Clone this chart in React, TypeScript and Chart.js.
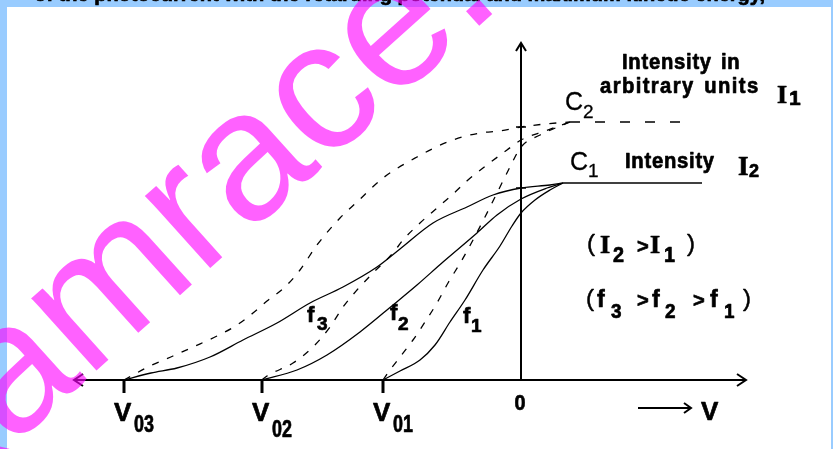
import React, { useEffect, useRef } from "react";
import { Chart, registerables } from "chart.js";

Chart.register(...registerables);

// ---- data (x: collector potential V, arbitrary units; y: photocurrent, arbitrary units) ----
const stoppingPotentials = [-3.97, -2.59, -1.38]; // V03, V02, V01
const stoppingLabels = ["03", "02", "01"];

// Intensity I2 (solid curves, saturate at C1)
const solidF3X = [-3.97, -3.7, -3.44, -3.11, -2.78, -2.44, -2.11, -1.78, -1.44, -1.21, -0.88, -0.54, -0.28, 0, 0.29, 0.42];
const solidF3Y = [0, 0.14, 0.24, 0.46, 0.8, 1.14, 1.54, 1.86, 2.26, 2.62, 3.14, 3.46, 3.7, 3.84, 3.9, 3.94];
const solidF2X = [-2.59, -2.24, -1.94, -1.61, -1.28, -1.04, -0.78, -0.44, -0.24, 0, 0.26, 0.42];
const solidF2Y = [0, 0.2, 0.5, 0.96, 1.5, 1.9, 2.36, 2.94, 3.3, 3.62, 3.84, 3.94];
const solidF1X = [-1.38, -1.21, -1.01, -0.86, -0.71, -0.56, -0.38, -0.21, -0.09, 0, 0.14, 0.29, 0.42];
const solidF1Y = [0, 0.18, 0.4, 0.7, 1.16, 1.6, 2.2, 2.68, 3.08, 3.34, 3.6, 3.8, 3.94];

// Intensity I1 (dashed curves, saturate at C2)
const dashedF3X = [-3.97, -3.71, -3.48, -3.28, -3.04, -2.84, -2.68, -2.54, -2.36, -2.21, -2.04, -1.81, -1.64, -1.38, -1.04, -0.71, -0.41, -0.21, 0, 0.24, 0.49];
const dashedF3Y = [0, 0.28, 0.48, 0.66, 0.88, 1.1, 1.34, 1.58, 1.86, 2.2, 2.7, 3.24, 3.56, 4.04, 4.46, 4.78, 4.94, 4.98, 5.06, 5.12, 5.16];
const dashedF2X = [-2.59, -2.54, -2.28, -2.08, -1.91, -1.78, -1.64, -1.48, -1.28, -1.18, -1.01, -0.84, -0.69, -0.53, -0.34, -0.14, 0, 0.24, 0.49];
const dashedF2Y = [0, 0.08, 0.34, 0.66, 1.06, 1.46, 1.8, 2.14, 2.54, 2.8, 3.14, 3.44, 3.7, 4.0, 4.3, 4.6, 4.8, 4.98, 5.16];
const dashedF1X = [-1.38, -1.31, -1.21, -1.08, -0.96, -0.84, -0.73, -0.59, -0.48, -0.36, -0.24, -0.11, 0, 0.19, 0.49];
const dashedF1Y = [0, 0.2, 0.46, 0.8, 1.16, 1.54, 1.94, 2.4, 2.8, 3.26, 3.74, 4.26, 4.66, 4.9, 5.16];

// Saturation levels
const saturationC1X = [0.42, 1.81];
const saturationC1Y = [3.94, 3.94];
const saturationC2X = [0.49, 1.69];
const saturationC2Y = [5.16, 5.16];

// Axis extents
const xAxisRange = [-4.47, 2.25];
const yAxisTop = 6.74;
const xView = [-5.21, 3.12];
const yView = [-1.38, 7.6];

const SANS = "'Liberation Sans', Arial, sans-serif";
const SERIF = "'Liberation Serif', 'Times New Roman', serif";

const pts = (xs: number[], ys: number[]) => xs.map((x, i) => ({ x, y: ys[i] }));

function valueAtZero(xs: number[], ys: number[]) {
  const i = xs.indexOf(0);
  return i >= 0 ? ys[i] : 0;
}

function txt(ctx: CanvasRenderingContext2D, s: string, x: number, y: number, font: string, opts: any = {}) {
  ctx.save();
  ctx.font = font;
  (ctx as any).letterSpacing = opts.ls || "0px";
  (ctx as any).wordSpacing = opts.ws || "0px";
  ctx.textAlign = opts.align || "left";
  ctx.textBaseline = "alphabetic";
  ctx.fillStyle = opts.color || "#000";
  ctx.translate(x, y);
  if (opts.sx) ctx.scale(opts.sx, 1);
  ctx.fillText(s, 0, 0);
  const sw = opts.stroke === undefined ? 0.7 : opts.stroke;
  if (sw > 0) {
    ctx.strokeStyle = opts.color || "#000";
    ctx.lineWidth = sw;
    ctx.lineJoin = "round";
    ctx.strokeText(s, 0, 0);
  }
  ctx.restore();
}

function seg(ctx: CanvasRenderingContext2D, p: number[][]) {
  ctx.beginPath();
  ctx.moveTo(p[0][0], p[0][1]);
  for (let i = 1; i < p.length; i++) ctx.lineTo(p[i][0], p[i][1]);
  ctx.stroke();
}

const decorPlugin = {
  id: "decor",
  beforeDraw(chart: any) {
    const { ctx, width, height } = chart;
    ctx.save();
    ctx.fillStyle = "#ffffff";
    ctx.fillRect(0, 0, width, height);
    ctx.restore();
  },
  afterDraw(chart: any) {
    const { ctx, width, height } = chart;
    const xs = chart.scales.x;
    const ys = chart.scales.y;
    const X = (v: number) => xs.getPixelForValue(v);
    const Y = (v: number) => ys.getPixelForValue(v);
    const ox = X(0);
    const oy = Y(0);

    ctx.save();
    ctx.strokeStyle = "#000";
    ctx.lineWidth = 2;
    ctx.lineCap = "butt";
    ctx.lineJoin = "miter";
    // axes
    seg(ctx, [[X(xAxisRange[0]), oy], [X(xAxisRange[1]), oy]]);
    seg(ctx, [[ox, oy], [ox, Y(yAxisTop)]]);
    // arrowheads
    const xl = X(xAxisRange[0]);
    const xr = X(xAxisRange[1]);
    const yt = Y(yAxisTop);
    seg(ctx, [[xl + 9, oy - 6], [xl, oy], [xl + 9, oy + 6]]);
    seg(ctx, [[xr - 9, oy - 6], [xr, oy], [xr - 9, oy + 6]]);
    seg(ctx, [[ox - 5, yt + 8], [ox, yt], [ox + 5, yt + 8]]);
    // stopping potential ticks
    ctx.lineWidth = 3;
    stoppingPotentials.forEach((v) => seg(ctx, [[X(v), oy], [X(v), oy + 13]]));
    // small marks on the current axis where the curves cross it
    ctx.lineWidth = 1.5;
    [valueAtZero(dashedF3X, dashedF3Y), valueAtZero(solidF3X, solidF3Y)].forEach((v) =>
      seg(ctx, [[ox - 5, Y(v)], [ox + 5, Y(v)]])
    );
    // "--> V" arrow
    ctx.lineWidth = 2;
    seg(ctx, [[ox + 117, oy + 28], [ox + 170, oy + 28]]);
    seg(ctx, [[ox + 163, oy + 23], [ox + 170, oy + 28], [ox + 163, oy + 33]]);
    ctx.restore();

    // ---- labels ----
    const B = (px: number) => `bold ${px}px ${SANS}`;
    const R = (px: number) => `${px}px ${SANS}`;
    const S = (px: number) => `bold ${px}px ${SERIF}`;

    stoppingPotentials.forEach((v, i) => {
      const tx = X(v);
      const extra = i === 1 ? 5 : 0;
      txt(ctx, "V", tx - 10, oy + 41, B(26));
      txt(ctx, stoppingLabels[i], tx + 10, oy + 52 + extra, B(23), { sx: 0.78 });
    });
    txt(ctx, "0", ox - 1, oy + 30, B(22), { align: "center", sx: 0.9 });
    txt(ctx, "V", ox + 180, oy + 40, B(26));

    // curve labels
    txt(ctx, "f", ox - 214, oy - 58, B(22));
    txt(ctx, "3", ox - 204, oy - 50, B(19));
    txt(ctx, "f", ox - 131, oy - 60, B(22));
    txt(ctx, "2", ox - 123, oy - 50, B(19));
    txt(ctx, "f", ox - 58, oy - 57, B(22));
    txt(ctx, "1", ox - 50, oy - 48, B(19));

    // saturation labels
    txt(ctx, "C", ox + 44, oy - 270, R(25), { stroke: 0.3 });
    txt(ctx, "2", ox + 62, oy - 262, R(19), { stroke: 0.3 });
    txt(ctx, "C", ox + 49, oy - 210, R(25), { stroke: 0.3 });
    txt(ctx, "1", ox + 67, oy - 203, R(19), { stroke: 0.3 });

    txt(ctx, "Intensity in", ox + 101, oy - 311, B(22), { sx: 0.92, ls: "0.8px", ws: "3px" });
    txt(ctx, "arbitrary units", ox + 79, oy - 287, B(22), { sx: 0.92, ls: "1.5px", ws: "3px" });
    txt(ctx, "I", ox + 256, oy - 277, S(26));
    txt(ctx, "1", ox + 268, oy - 275, B(21));

    txt(ctx, "Intensity", ox + 104, oy - 212, B(22), { sx: 0.92, ls: "0.8px" });
    txt(ctx, "I", ox + 217, oy - 205, S(27));
    txt(ctx, "2", ox + 228, oy - 203, B(18));

    // (I2 > I1)
    txt(ctx, "(", ox + 66, oy - 129, R(24), { stroke: 0.5 });
    txt(ctx, "I", ox + 79, oy - 127, S(26));
    txt(ctx, "2", ox + 92, oy - 118, B(22), { sx: 0.9 });
    txt(ctx, ">", ox + 116, oy - 127, B(20));
    txt(ctx, "I", ox + 129, oy - 127, S(26));
    txt(ctx, "1", ox + 143, oy - 118, B(22), { sx: 0.9 });
    txt(ctx, ")", ox + 166, oy - 129, R(24), { stroke: 0.5 });

    // (f3 > f2 > f1)
    txt(ctx, "(", ox + 65, oy - 74, R(24), { stroke: 0.5 });
    txt(ctx, "f", ox + 76, oy - 73, B(23));
    txt(ctx, "3", ox + 90, oy - 62, B(21), { sx: 0.9 });
    txt(ctx, ">", ox + 116, oy - 73, B(20));
    txt(ctx, "f", ox + 131, oy - 73, B(23));
    txt(ctx, "2", ox + 144, oy - 62, B(21), { sx: 0.9 });
    txt(ctx, ">", ox + 172, oy - 73, B(20));
    txt(ctx, "f", ox + 189, oy - 73, B(23));
    txt(ctx, "1", ox + 203, oy - 62, B(21), { sx: 0.9 });
    txt(ctx, ")", ox + 222, oy - 74, R(24), { stroke: 0.5 });

    // ---- frame ----
    ctx.save();
    ctx.fillStyle = "#99ccff";
    ctx.fillRect(0, 0, width, 7);
    ctx.fillRect(0, 0, 7, height);
    ctx.fillRect(width - 2, 0, 2, height);
    ctx.restore();
    txt(
      ctx,
      "of the photocurrent with the retarding potential and maximum kinetic energy,",
      765,
      0.5,
      B(20),
      { align: "right" }
    );

    // ---- watermark ----
    ctx.save();
    ctx.translate(-133.5, 577.5);
    ctx.rotate((-42 * Math.PI) / 180);
    ctx.font = `184px ${SANS}`;
    ctx.fillStyle = "rgba(255, 0, 255, 0.62)";
    ctx.textBaseline = "alphabetic";
    ctx.fillText("examrace.com", 0, 0);
    ctx.restore();
  },
};

const solidStyle = {
  borderColor: "#000",
  borderWidth: 1.3,
  pointRadius: 0,
  fill: false,
  cubicInterpolationMode: "monotone" as const,
};
const dashedStyle = { ...solidStyle, borderDash: [7, 9] };

export default function App() {
  const ref = useRef<HTMLCanvasElement>(null);
  useEffect(() => {
    if (!ref.current) return;
    const chart = new Chart(ref.current, {
      type: "line",
      data: {
        datasets: [
          { label: "f3 (I2)", data: pts(solidF3X, solidF3Y), ...solidStyle },
          { label: "f2 (I2)", data: pts(solidF2X, solidF2Y), ...solidStyle },
          { label: "f1 (I2)", data: pts(solidF1X, solidF1Y), ...solidStyle },
          { label: "f3 (I1)", data: pts(dashedF3X, dashedF3Y), ...dashedStyle },
          { label: "f2 (I1)", data: pts(dashedF2X, dashedF2Y), ...dashedStyle },
          { label: "f1 (I1)", data: pts(dashedF1X, dashedF1Y), ...dashedStyle },
          { label: "C1", data: pts(saturationC1X, saturationC1Y), ...solidStyle, borderWidth: 1.6 },
          { label: "C2", data: pts(saturationC2X, saturationC2Y), ...solidStyle, borderWidth: 1.6, borderDash: [10, 15] },
        ],
      },
      options: {
        animation: false,
        responsive: false,
        maintainAspectRatio: false,
        devicePixelRatio: 1,
        events: [],
        layout: { padding: 0 },
        scales: {
          x: { type: "linear", display: false, min: xView[0], max: xView[1] },
          y: { type: "linear", display: false, min: yView[0], max: yView[1] },
        },
        plugins: { legend: { display: false }, tooltip: { enabled: false } },
      },
      plugins: [decorPlugin],
    });
    return () => chart.destroy();
  }, []);
  return (
    <div style={{ position: "fixed", left: 0, top: 0, width: 833, height: 449, background: "#fff" }}>
      <canvas ref={ref} width={833} height={449} style={{ display: "block", width: 833, height: 449 }} />
    </div>
  );
}
